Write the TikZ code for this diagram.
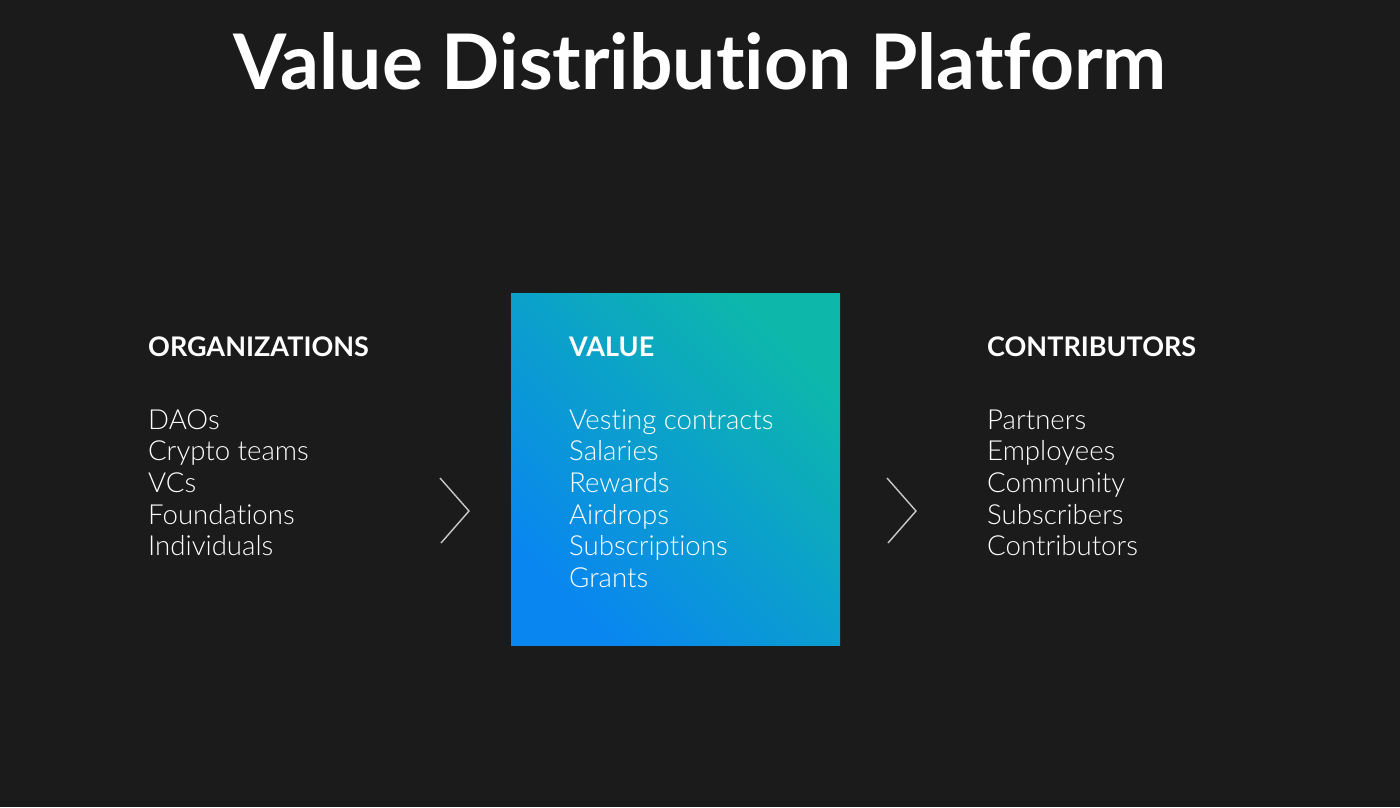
\documentclass[tikz,border=0pt]{standalone}
\usepackage{fontspec}
\setmainfont{Lato}[Ligatures=NoCommon]
\newfontfamily\lightfont{Lato Light}[Ligatures=NoCommon]
\definecolor{bg}{HTML}{1B1B1B}
\definecolor{teal}{HTML}{0DB8AA}
\definecolor{midblue}{HTML}{0A9DD4}
\definecolor{blueA}{HTML}{0986F0}
\definecolor{chev}{HTML}{C8C8C8}
\tikzset{
  head/.style={anchor=base west, text=white, inner sep=0pt, font=\fontsize{27}{30}\selectfont\bfseries},
  item/.style={anchor=base west, text=white, inner sep=0pt, font=\lightfont\fontsize{27.6}{32}\selectfont},
  chevron/.style={draw=chev, line width=1.4pt}
}
\begin{document}
\begin{tikzpicture}[x=1pt,y=-1pt]
\fill[bg] (0,0) rectangle (1400,807);
\useasboundingbox (0,0) rectangle (1400,807);
\node[anchor=base, text=white, inner sep=0pt, font=\fontsize{76.7}{80}\selectfont\bfseries] (title) at (700,89) {Value Distribution Platform};
% box
\shade[top color=teal, middle color=midblue, bottom color=blueA, shading angle=-45] (511,293) rectangle (840,645);
\node (box) at (675.5,469) [minimum width=329pt, minimum height=352pt, inner sep=0pt] {};
% left column
\node[head] (orgh) at (148,356) {ORGANIZATIONS};
\node[item] (o1) at (148,429) {DAOs};
\node[item] (o2) at (148,460.7) {Crypto teams};
\node[item] (o3) at (148,492.4) {VCs};
\node[item] (o4) at (148,524.1) {Foundations};
\node[item] (o5) at (148,555.8) {Individuals};
% middle column
\node[head] (valh) at (569,356) {VALUE};
\node[item] (v1) at (569,429) {Vesting contracts};
\node[item] (v2) at (569,460.7) {Salaries};
\node[item] (v3) at (569,492.4) {Rewards};
\node[item] (v4) at (569,524.1) {Airdrops};
\node[item] (v5) at (569,555.8) {Subscriptions};
\node[item] (v6) at (569,587.5) {Grants};
% right column
\node[head] (conh) at (987,356) {CONTRIBUTORS};
\node[item] (c1) at (987,429) {Partners};
\node[item] (c2) at (987,460.7) {Employees};
\node[item] (c3) at (987,492.4) {Community};
\node[item] (c4) at (987,524.1) {Subscribers};
\node[item] (c5) at (987,555.8) {Contributors};
% chevrons
\coordinate (a1) at (440,478); \coordinate (a2) at (469,511); \coordinate (a3) at (441,543);
\draw[chevron] (a1) -- (a2) -- (a3);
\coordinate (b1) at (887,478); \coordinate (b2) at (916,511); \coordinate (b3) at (888,543);
\draw[chevron] (b1) -- (b2) -- (b3);
\end{tikzpicture}
\end{document}
